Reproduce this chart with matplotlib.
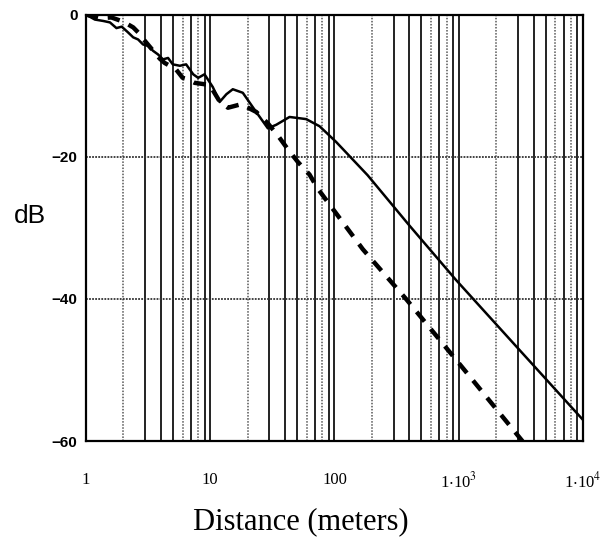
import matplotlib
matplotlib.use("Agg")
import matplotlib.pyplot as plt
import numpy as np

# values (distance in meters, level in dB)
solid_x = [1, 1.18, 1.38, 1.56, 1.76, 1.94, 2.18, 2.40, 2.63, 2.88, 3.16, 3.47, 3.8, 4.17,
           4.58, 5.0, 5.7, 6.4, 7.3, 8.0, 9.0, 10.5, 11.9, 13.5, 15.2, 18.3, 22.8, 29.1,
           34, 43.5, 59.2, 75.8, 103, 185, 398, 948, 2880, 10000]
solid_db = [0, -0.7, -0.9, -1.1, -1.9, -1.7, -2.5, -3.2, -3.5, -4.2, -4.4, -5.1, -5.6, -6.3,
            -6.1, -7.0, -7.2, -7.0, -8.4, -8.9, -8.4, -10.2, -12.3, -11.2, -10.5, -11.0, -13.4, -16.0,
            -15.5, -14.4, -14.7, -15.7, -17.9, -22.6, -29.6, -37.3, -46.6, -57.0]

dash_x = [1, 1.3, 1.6, 2.0, 2.4, 2.63, 2.98, 3.93, 4.3, 5.3, 6.0, 6.6, 7.5, 9.9, 11.9, 13.9,
          17.8, 23.5, 29.1, 35, 42, 50.6, 63, 73.5, 169, 377, 1214, 3260]
dash_db = [0, -0.5, -0.4, -1.0, -1.8, -2.5, -3.7, -6.2, -6.8, -7.7, -8.9, -9.1, -9.6, -9.9, -12.2, -13.1,
           -12.6, -13.7, -15.3, -17.0, -18.9, -20.7, -22.5, -24.5, -33.0, -40.0, -50.8, -60.0]

x_ticks = [1, 10, 100, 1000, 10000]
x_labels = ["1", "10", "100", r"1$\cdot$10$^{3}$", r"1$\cdot$10$^{4}$"]
y_ticks = [0, -20, -40, -60]
y_labels = ["0", "\u221220", "\u221240", "\u221260"]

plt.rcParams['mathtext.fontset'] = 'stix'

fig = plt.figure(figsize=(6.01, 5.40), dpi=100)
ax = fig.add_axes([0.143, 0.183, 0.827, 0.790])
ax.set_xscale('log')
ax.set_xlim(1, 10000)
ax.set_ylim(-60, 0)

# grid lines: one per minor log step, Mathcad style
for dec in [1, 10, 100, 1000]:
    for m in range(2, 11):
        v = dec * m
        if v >= 10000:
            continue
        if m in (2, 6, 8):
            ax.axvline(v, color='#555555', lw=1.1, ls=(0, (1, 1)), zorder=1)
        else:
            ax.axvline(v, color='#222222', lw=1.4, zorder=1)
for yv in [-20, -40]:
    ax.axhline(yv, color='#333333', lw=1.3, ls=(0, (1, 0.7)), zorder=1)

ax.plot(solid_x, solid_db, color='black', lw=1.8, zorder=3)
ax.plot(dash_x, dash_db, color='black', lw=3.2, ls=(0, (2.8, 2.2)), zorder=3)

ax.set_xticks(x_ticks)
ax.set_xticklabels(x_labels, fontfamily='Liberation Serif', fontsize=12)
ax.xaxis.set_minor_locator(matplotlib.ticker.NullLocator())
ax.set_yticks(y_ticks)
ax.set_yticklabels(y_labels, fontfamily='Liberation Sans', fontsize=11, fontweight='bold')
ax.tick_params(axis='both', length=0)
ax.tick_params(axis='x', pad=22)
ax.tick_params(axis='y', pad=6)

for s in ax.spines.values():
    s.set_linewidth(1.6)
    s.set_color('black')

fig.text(0.50, 0.033, "Distance (meters)", fontfamily='Liberation Serif', fontsize=22,
         ha='center', va='center')
fig.text(0.05, 0.60, "dB", fontfamily='Liberation Sans', fontsize=19, ha='center', va='center')

fig.savefig("out.png", dpi=100)
